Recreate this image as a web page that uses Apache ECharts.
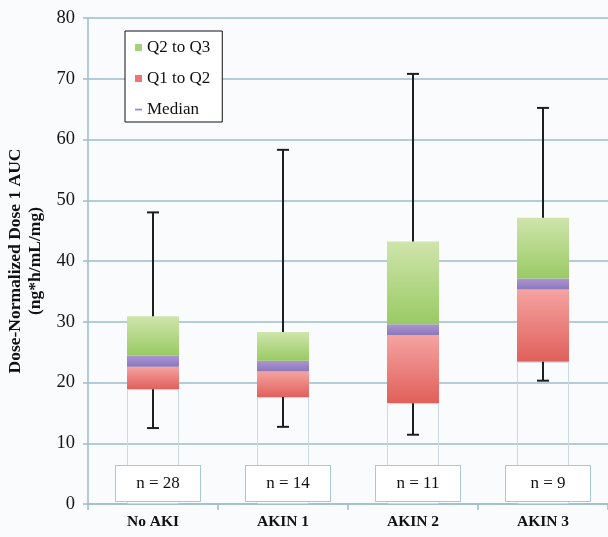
<!DOCTYPE html>
<html>
<head>
<meta charset="utf-8">
<script src="https://cdn.jsdelivr.net/npm/echarts@6/dist/echarts.min.js"></script>
<style>
  html, body { margin: 0; padding: 0; background: #fafbfd; }
  #chart { width: 608px; height: 537px; }
</style>
</head>
<body>
<div id="chart"></div>
<script>
// Dose-normalized dose 1 AUC by AKI stage (box summaries)
const categories = ['No AKI', 'AKIN 1', 'AKIN 2', 'AKIN 3'];
const nCounts    = [28, 14, 11, 9];
const whiskerMin = [12.5, 12.7, 11.4, 20.3];
const q1         = [18.9, 17.6, 16.6, 23.4];
const median     = [22.6, 21.8, 27.8, 35.3];
const q3         = [30.9, 28.3, 43.2, 47.1];
const whiskerMax = [48.0, 58.3, 70.8, 65.2];
const medianBand = 1.8;   // thickness of the median marker, in axis units
const yTicks     = [0, 10, 20, 30, 40, 50, 60, 70, 80];

const SERIF = '"Liberation Serif", "DejaVu Serif", serif';
const GRID_COLOR = '#9dbdcd';

const grad = (stops) => ({
  type: 'linear', x: 0, y: 0, x2: 0, y2: 1,
  colorStops: stops.map(([o, c]) => ({ offset: o, color: c }))
});

const baseData   = q1.slice();
const lowerData  = q1.map((v, i) => +(median[i] - v).toFixed(2));
const bandData   = q1.map(() => medianBand);
const upperData  = q3.map((v, i) => +(v - median[i] - medianBand).toFixed(2));
const whiskerData = categories.map((c, i) => [i, whiskerMin[i], q1[i], q3[i], whiskerMax[i]]);

const chart = echarts.init(document.getElementById('chart'), null, { renderer: 'canvas' });

chart.setOption({
  backgroundColor: '#fafbfd',
  animation: false,
  textStyle: { fontFamily: SERIF },
  grid: { left: 88, right: 0, top: 18, bottom: 33, containLabel: false, outerBoundsMode: 'none' },
  legend: {
    left: 125, top: 31,
    orient: 'vertical',
    backgroundColor: '#ffffff',
    borderColor: '#111111', borderWidth: 1,
    padding: [8, 12, 4, 10],
    itemWidth: 7, itemHeight: 7, itemGap: 14,
    textStyle: { fontFamily: SERIF, fontSize: 17, lineHeight: 17, color: '#111' },
    data: [
      { name: 'Q2 to Q3', icon: 'rect', itemStyle: { color: '#a3d27c' } },
      { name: 'Q1 to Q2', icon: 'rect', itemStyle: { color: '#f07474' } },
      { name: 'Median', icon: 'path://M0,0 M0,10 M0,3.8 L10,3.8 L10,6.4 L0,6.4 Z', itemStyle: { color: '#9c8ad0' } }
    ]
  },
  xAxis: {
    type: 'category',
    data: categories,
    axisLine: { lineStyle: { color: GRID_COLOR, width: 1.5 } },
    axisTick: { show: true, length: 6, lineStyle: { color: GRID_COLOR, width: 1.5 } },
    axisLabel: { fontFamily: SERIF, fontWeight: 'bold', fontSize: 15.5, color: '#111', margin: 10 }
  },
  yAxis: {
    type: 'value',
    min: yTicks[0], max: yTicks[yTicks.length - 1], interval: 10,
    name: 'Dose-Normalized Dose 1 AUC\n(ng*h/mL/mg)',
    nameLocation: 'middle',
    nameGap: 38,
    nameTextStyle: { fontFamily: SERIF, fontWeight: 'bold', fontSize: 17.5, lineHeight: 20, color: '#111' },
    axisLine: { show: true, lineStyle: { color: GRID_COLOR, width: 1.5 } },
    axisTick: { show: true, length: 5, lineStyle: { color: GRID_COLOR, width: 1.5 } },
    axisLabel: { fontFamily: SERIF, fontSize: 18.5, color: '#151515', margin: 13 },
    splitLine: { lineStyle: { color: GRID_COLOR, width: 1.5 } }
  },
  series: [
    {
      name: 'base', type: 'bar', stack: 'box', barWidth: 52,
      data: baseData,
      itemStyle: { color: 'rgba(255,255,255,0)', borderColor: '#cdd8e0', borderWidth: 1 },
      label: {
        show: true,
        position: 'insideBottom',
        distance: 3,
        offset: [5, 0],
        formatter: (p) => 'n = ' + nCounts[p.dataIndex],
        fontFamily: SERIF, fontSize: 17, color: '#111',
        backgroundColor: '#ffffff',
        borderColor: '#a9c8d6', borderWidth: 1,
        width: 84, height: 35, lineHeight: 35, align: 'center'
      },
      z: 3
    },
    {
      name: 'Q1 to Q2', type: 'bar', stack: 'box', barWidth: 52,
      data: lowerData,
      itemStyle: { color: grad([[0, '#f5a3a1'], [1, '#e0605a']]) }
    },
    {
      name: 'Median', type: 'bar', stack: 'box', barWidth: 52,
      data: bandData,
      itemStyle: { color: grad([[0, '#aa96d0'], [0.5, '#9c86c8'], [1, '#8a78b8']]) }
    },
    {
      name: 'Q2 to Q3', type: 'bar', stack: 'box', barWidth: 52,
      data: upperData,
      itemStyle: { color: grad([[0, '#cfe5ab'], [1, '#99ca64']]) }
    },
    {
      name: 'whiskers', type: 'custom',
      data: whiskerData,
      encode: { x: 0, y: [1, 2, 3, 4] },
      z: 4,
      renderItem: (params, api) => {
        const idx = api.value(0);
        const pMin = api.coord([idx, api.value(1)]);
        const pQ1  = api.coord([idx, api.value(2)]);
        const pQ3  = api.coord([idx, api.value(3)]);
        const pMax = api.coord([idx, api.value(4)]);
        const cap = 6;
        const style = { stroke: '#1b1f22', lineWidth: 2 };
        const line = (x1, y1, x2, y2) => ({ type: 'line', shape: { x1, y1, x2, y2 }, style });
        return {
          type: 'group',
          children: [
            line(pQ3[0], pQ3[1], pMax[0], pMax[1]),
            line(pMax[0] - cap, pMax[1], pMax[0] + cap, pMax[1]),
            line(pQ1[0], pQ1[1], pMin[0], pMin[1]),
            line(pMin[0] - cap, pMin[1], pMin[0] + cap, pMin[1])
          ]
        };
      }
    }
  ]
});
</script>
</body>
</html>
